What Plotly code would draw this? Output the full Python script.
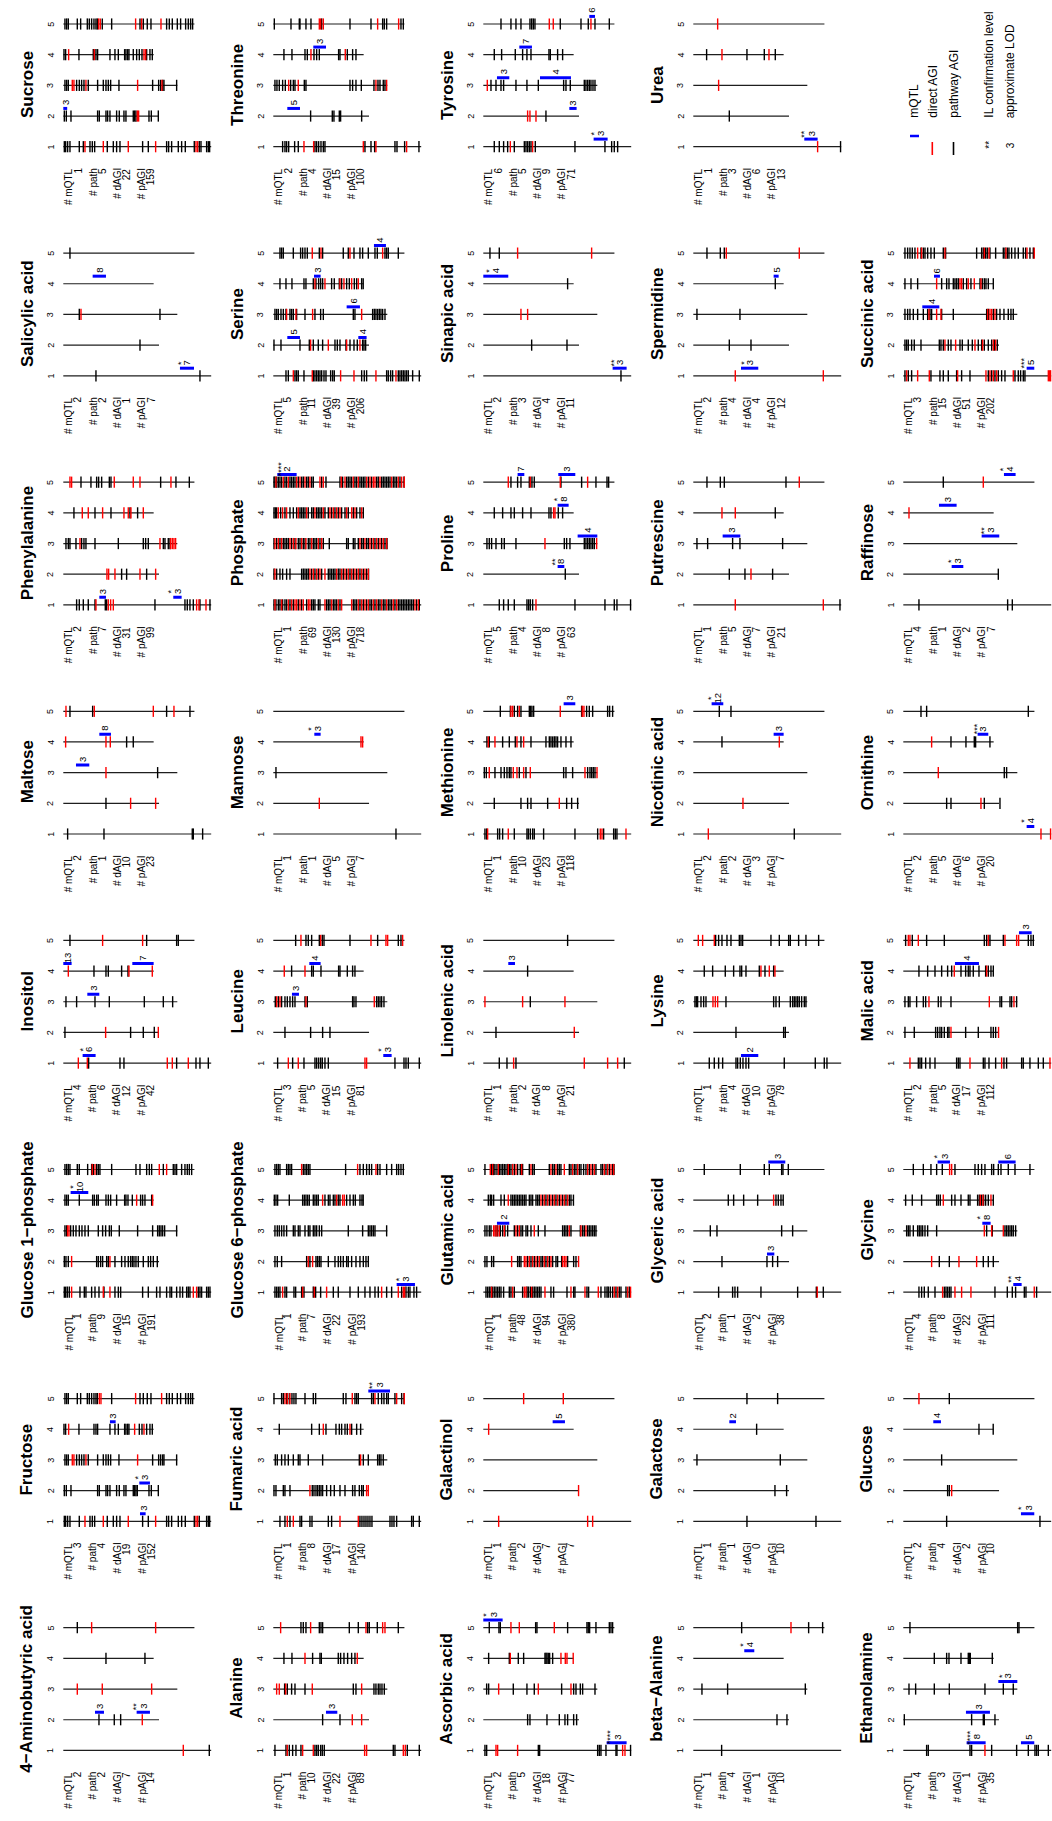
import plotly.graph_objects as go

# ---------------------------------------------------------------- data --
CHROM_LENGTH_MB = [30.43, 19.70, 23.46, 18.59, 26.98]
STAT_LABELS = ["# mQTL", "# path", "# dAGI", "# pAGI"]
LEGEND_LABELS = ["mQTL", "direct AGI", "pathway AGI"]
KEY_SYMBOLS = ["**", "3"]
KEY_LABELS = ["IL confirmation level", "approximate LOD"]

# counts = (# mQTL, # path, # dAGI, # pAGI)
# path / direct = AGI positions (Mb) per chromosome
# mqtl = (chromosome, start Mb, end Mb, approximate LOD, IL confirmation level)
SUCROSE = dict(
    name="Sucrose", counts=(1, 5, 22, 159),
    path={1: [0.21, 0.48, 0.89, 1.37, 3.29, 4.12, 5.49, 5.97, 6.45, 9.05, 10.29, 10.97, 11.66, 16.32, 17.49, 21.26, 21.67, 22.29, 23.66, 24.35, 25.1, 26.95, 27.98, 28.33, 29.49, 29.84, 30.11],
          2: [0.21, 0.62, 1.58, 7.06, 7.41, 8.78, 9.12, 9.6, 10.97, 11.52, 12.48, 12.89, 14.4, 14.68, 14.95, 17.63, 18.11, 19.55],
          3: [0.34, 0.69, 1.03, 2.74, 3.29, 3.77, 4.25, 5.14, 7.06, 8.23, 8.78, 9.26, 9.74, 11.45, 18.38, 19.62, 20.03, 20.44, 20.71, 23.32],
          4: [0.14, 0.48, 3.22, 6.17, 6.72, 7.06, 9.6, 10.63, 11.32, 12.62, 12.89, 13.24, 13.51, 14.4, 15.09, 15.64, 16.19, 17.15, 17.83, 18.31],
          5: [0.34, 0.69, 1.03, 2.88, 3.57, 4.94, 5.35, 5.83, 6.31, 6.72, 7.0, 8.02, 9.95, 15.78, 16.46, 17.28, 18.04, 21.26, 21.81, 22.43, 23.46, 24.14, 25.17, 25.72, 26.2, 26.61]},
    direct={1: [4.46, 8.23, 13.37, 19.0, 27.3, 27.64], 2: [15.23, 15.5], 3: [1.85, 2.19, 4.66, 15.29, 20.3],
            4: [1.1, 6.38, 16.6, 16.94], 5: [7.27, 7.61, 14.88, 16.12, 20.1]},
    mqtl=[(2, 0.0, 0.8, "3", "")],
)

THREONINE = dict(
    name="Threonine", counts=(2, 4, 15, 100),
    path={1: [1.92, 2.4, 2.74, 3.16, 4.39, 5.14, 8.57, 8.92, 9.33, 9.81, 10.29, 10.63, 18.86, 20.1, 20.85, 25.03, 25.45, 27.02, 29.97],
          2: [7.68, 12.14, 12.48, 13.58, 13.85, 18.18],
          3: [0.34, 0.75, 1.23, 1.92, 2.47, 3.57, 4.12, 4.46, 6.38, 6.72, 15.78, 16.32, 17.01, 18.11, 20.71, 21.54, 21.95, 22.63, 22.98],
          4: [2.19, 3.84, 6.52, 7.0, 8.37, 8.92, 9.47, 13.44, 13.72, 15.23, 16.32, 17.01],
          5: [0.21, 3.64, 5.35, 5.49, 6.72, 7.75, 9.95, 15.78, 20.1, 22.5, 22.84, 23.32, 26.27, 26.75]},
    direct={1: [6.31, 8.3, 18.52, 21.12, 27.43], 3: [3.16, 5.14, 21.12, 23.32], 4: [7.75, 14.81],
            5: [9.47, 9.74, 10.29, 21.47, 25.79]},
    mqtl=[(2, 2.88, 5.49, "5", ""), (4, 8.23, 10.84, "3", "")],
)

TYROSINE = dict(
    name="Tyrosine", counts=(6, 5, 9, 71),
    path={1: [2.26, 3.29, 4.18, 5.01, 6.38, 8.44, 8.78, 9.12, 9.47, 9.81, 10.7, 18.86, 25.03, 26.41, 26.95, 27.64],
          2: [12.89],
          3: [1.58, 2.61, 3.64, 4.18, 6.72, 8.98, 11.32, 16.53, 17.01, 17.9, 20.78, 21.12, 21.47, 21.81, 22.15, 22.57, 22.98],
          4: [2.26, 3.77, 6.58, 8.09, 8.98, 9.81, 13.51, 13.79, 15.29, 16.32],
          5: [3.64, 5.69, 6.72, 7.75, 9.6, 9.95, 10.29, 10.63, 15.84, 20.1, 21.6, 22.98, 25.93]},
    direct={1: [5.56, 10.15], 2: [9.12, 9.6, 10.84], 3: [0.82], 5: [13.58, 14.4, 22.15]},
    mqtl=[(5, 21.81, 22.98, "6", ""), (4, 7.41, 10.01, "7", ""), (3, 2.81, 5.35, "3", ""),
          (3, 11.66, 18.04, "4", ""), (2, 17.7, 19.2, "3", ""), (1, 22.7, 25.58, "3", "*")],
)

UREA = dict(
    name="Urea", counts=(1, 3, 6, 13),
    path={1: [30.3], 2: [7.41], 4: [2.74, 11.04, 14.61, 16.87]},
    direct={1: [25.58], 3: [5.21], 4: [5.9, 15.57], 5: [5.01]},
    mqtl=[(1, 22.84, 25.58, "3", "**")],
)

SALICYLIC_ACID = dict(
    name="Salicylic acid", counts=(2, 2, 1, 7),
    path={1: [6.72, 28.12], 2: [15.78], 3: [3.29, 19.89], 5: [1.37]},
    direct={3: [3.64]},
    mqtl=[(4, 6.04, 8.78, "8", ""), (1, 24.0, 26.89, "7", "*")],
)

SERINE = dict(
    name="Serine", counts=(5, 11, 39, 206),
    path={1: [2.61, 3.09, 4.46, 4.8, 5.14, 6.31, 8.23, 8.57, 8.92, 9.26, 9.6, 9.95, 10.43, 10.84, 11.8, 12.21, 12.55, 18.18, 18.72, 19.2, 23.32, 23.66, 24.14, 24.55, 25.72, 26.06, 26.41, 26.75, 27.09, 27.43, 27.78, 28.67, 30.04],
          2: [0.14, 1.58, 5.49, 7.41, 8.23, 9.26, 10.15, 12.69, 13.17, 13.72, 14.95, 15.78, 16.6, 17.28, 18.38, 18.66, 19.0],
          3: [0.34, 0.69, 1.03, 1.58, 2.06, 2.61, 3.43, 3.77, 4.12, 4.8, 6.52, 8.57, 9.74, 10.29, 16.46, 16.8, 20.44, 20.78, 21.12, 21.47, 21.81, 22.15, 22.5, 22.98],
          4: [1.37, 2.61, 3.84, 6.31, 6.72, 8.23, 8.78, 9.33, 9.74, 10.15, 12.0, 12.55, 13.58, 14.06, 15.09, 15.64, 16.67, 17.15, 18.18, 18.5],
          5: [1.37, 1.71, 2.06, 4.12, 5.62, 6.04, 6.52, 7.0, 9.47, 10.15, 14.4, 15.43, 16.6, 17.83, 18.38, 19.55, 20.92, 21.4, 22.98, 23.32, 23.66, 25.72]},
    direct={1: [4.12, 8.02, 13.85, 16.6, 21.12, 25.24], 2: [7.68, 11.32, 15.09, 17.83], 3: [2.74, 4.66, 8.09, 18.18],
            4: [8.57, 10.63, 13.72, 14.54, 16.12, 17.49], 5: [8.02, 9.81, 15.78, 22.5]},
    mqtl=[(5, 20.71, 23.18, "4", ""), (4, 8.37, 9.74, "3", ""), (3, 15.09, 17.83, "6", ""),
          (2, 2.88, 5.49, "5", ""), (2, 17.49, 19.2, "4", "")],
)

SINAPIC_ACID = dict(
    name="Sinapic acid", counts=(2, 3, 4, 11),
    path={1: [28.33], 2: [9.95, 17.22], 4: [17.35], 5: [1.37, 3.29]},
    direct={3: [7.75, 9.12], 5: [7.06, 22.29]},
    mqtl=[(4, 0.0, 5.14, "4", "*"), (1, 26.61, 29.49, "3", "**")],
)

SPERMIDINE = dict(
    name="Spermidine", counts=(2, 4, 4, 12),
    path={2: [7.41, 11.87], 3: [0.75, 9.6], 4: [16.87], 5: [2.81, 5.56, 6.38]},
    direct={1: [8.64, 26.75], 5: [6.79, 21.81]},
    mqtl=[(4, 16.53, 17.56, "5", ""), (1, 9.81, 13.37, "3", "*")],
)

SUCCINIC_ACID = dict(
    name="Succinic acid", counts=(3, 15, 51, 202),
    path={1: [0.34, 1.03, 1.71, 5.69, 7.54, 8.23, 9.26, 10.97, 12.0, 13.72, 17.49, 18.18, 18.86, 19.55, 20.23, 20.92, 22.98, 23.66, 24.14, 24.69, 25.03],
          2: [0.34, 0.69, 1.03, 1.71, 2.26, 3.64, 7.41, 7.75, 8.23, 9.26, 9.81, 11.66, 12.14, 13.37, 14.2, 15.43, 16.12, 16.67, 17.49, 18.18, 18.72, 19.34],
          3: [0.34, 0.89, 1.37, 2.06, 2.95, 4.12, 5.01, 5.49, 5.83, 7.89, 10.29, 17.15, 17.49, 18.52, 19.2, 19.89, 20.71, 21.6, 22.15, 22.63],
          4: [0.34, 1.58, 2.95, 7.89, 8.92, 9.4, 10.29, 10.63, 10.97, 11.32, 12.35, 13.03, 13.92, 15.78, 16.25, 16.67, 17.01, 17.49, 18.52],
          5: [0.34, 0.89, 1.37, 1.85, 2.4, 3.64, 4.12, 4.46, 5.01, 5.69, 6.38, 8.23, 8.71, 15.09, 16.12, 16.46, 16.94, 17.28, 17.83, 19.0, 20.58, 20.92, 21.4, 21.74, 22.29, 22.98, 23.66, 24.69, 25.17, 26.06, 26.75]},
    direct={1: [0.69, 2.95, 5.35, 11.18, 17.01, 17.83, 18.52, 19.2, 22.63, 29.84, 30.11, 30.3],
            2: [8.57, 10.77, 14.75, 16.32, 18.52, 19.0],
            3: [5.28, 6.86, 7.75, 17.35, 17.83, 18.18, 18.86],
            4: [6.86, 11.66, 12.0, 13.37, 14.61, 15.98],
            5: [2.95, 3.77, 8.57, 16.67, 17.63, 21.12, 25.45, 26.95]},
    mqtl=[(4, 6.31, 7.54, "6", ""), (3, 3.91, 7.41, "4", ""), (1, 25.38, 26.95, "5", "***")],
)

PHENYLALANINE = dict(
    name="Phenylalanine", counts=(2, 7, 31, 99),
    path={1: [2.74, 3.29, 4.12, 5.14, 6.52, 8.64, 8.92, 18.86, 25.03, 25.51, 26.06, 26.75, 28.12, 30.18],
          2: [12.0, 13.03, 17.15],
          3: [0.55, 1.03, 1.37, 2.61, 3.77, 4.25, 4.66, 6.52, 11.32, 16.46, 16.94, 17.49, 20.58, 20.92, 21.6, 21.95],
          4: [2.19, 6.52, 9.81, 13.72, 15.29],
          5: [3.64, 5.69, 6.86, 7.27, 7.89, 9.47, 9.81, 20.03, 23.18, 25.93]},
    direct={1: [6.72, 9.26, 9.74, 10.29, 27.43, 27.91, 29.36], 2: [8.98, 9.33, 10.63, 15.78, 19.0],
            3: [3.43, 19.89, 22.08, 22.43, 22.77, 23.11], 4: [3.91, 5.14, 8.09, 12.48, 13.37, 13.92, 16.46],
            5: [1.37, 1.71, 10.49, 14.4, 15.78, 22.15]},
    mqtl=[(1, 7.41, 8.78, "3", ""), (1, 22.63, 24.35, "3", "*")],
)

PHOSPHATE = dict(
    name="Phosphate", counts=(1, 69, 130, 718),
    path={1: [0.14, 0.55, 1.03, 1.37, 1.92, 2.4, 2.74, 3.43, 4.12, 5.14, 5.83, 6.86, 7.89, 8.23, 8.57, 9.26, 9.6, 10.97, 11.32, 11.66, 12.35, 12.69, 13.03, 13.72, 16.46, 16.8, 17.15, 17.83, 18.52, 19.2, 19.89, 20.23, 20.92, 21.6, 21.95, 22.63, 22.98, 23.66, 24.01, 24.35, 25.03, 25.72, 26.06, 26.41, 26.75, 27.09, 27.43, 27.78, 28.12, 28.46, 28.81, 29.49, 30.04],
          2: [0.14, 0.69, 1.37, 1.92, 2.74, 3.43, 5.83, 6.17, 6.52, 6.86, 7.2, 7.89, 8.57, 9.26, 9.95, 11.32, 11.66, 12.0, 12.35, 12.69, 13.37, 13.72, 14.4, 15.09, 15.78, 16.46, 17.15, 17.83, 18.52, 19.2, 19.6],
          3: [0.14, 0.69, 1.37, 2.06, 2.4, 2.74, 3.09, 3.77, 4.46, 5.14, 5.49, 6.17, 6.52, 7.2, 7.54, 8.23, 8.57, 8.92, 9.6, 10.29, 11.52, 15.09, 15.43, 16.46, 16.8, 17.49, 18.18, 18.52, 19.2, 19.55, 20.23, 20.92, 21.6, 22.29, 22.98, 23.4],
          4: [0.14, 0.41, 0.69, 1.51, 2.4, 3.43, 4.12, 4.8, 5.49, 5.83, 6.17, 6.52, 7.2, 7.89, 8.23, 8.92, 9.26, 9.6, 9.95, 10.63, 11.32, 12.0, 12.69, 13.37, 14.06, 14.75, 15.43, 16.46, 17.15, 17.83, 18.52],
          5: [0.14, 0.34, 0.69, 1.03, 1.37, 1.71, 2.4, 2.74, 3.43, 3.77, 4.12, 4.46, 5.14, 5.83, 6.17, 6.86, 7.2, 7.89, 8.23, 9.95, 10.84, 13.72, 14.27, 15.09, 15.43, 15.78, 16.12, 16.8, 17.15, 17.83, 18.18, 18.52, 18.86, 19.55, 20.23, 21.26, 21.6, 22.29, 22.63, 22.98, 23.32, 23.66, 24.01, 24.69, 25.03, 25.38, 26.06, 26.89]},
    direct={1: [0.34, 1.71, 3.09, 3.77, 4.46, 4.8, 5.49, 6.17, 7.2, 7.54, 10.63, 12.0, 13.37, 14.06, 16.12, 17.49, 18.18, 18.86, 19.55, 20.58, 21.26, 22.29, 23.32, 24.69, 25.38, 29.15, 29.84],
            2: [0.34, 7.54, 8.23, 8.92, 9.6, 10.63, 13.03, 14.06, 14.75, 15.43, 16.12, 16.8, 17.49, 18.18, 18.86, 19.55],
            3: [0.34, 1.03, 1.71, 3.43, 4.12, 4.66, 5.83, 6.72, 7.89, 9.26, 9.95, 17.83, 18.86, 19.89, 20.58, 21.26, 21.95, 22.63, 23.32],
            4: [1.03, 1.92, 2.74, 5.14, 6.86, 8.57, 10.29, 11.66, 12.35, 13.03, 13.72, 15.09, 16.12, 16.8, 18.18],
            5: [0.55, 2.06, 3.09, 4.8, 5.49, 6.52, 7.54, 9.6, 10.29, 13.99, 14.75, 16.46, 17.49, 19.2, 19.89, 20.58, 20.92, 21.95, 24.35, 25.72, 26.41, 26.95]},
    mqtl=[(5, 0.82, 4.8, "2", "****")],
)

PROLINE = dict(
    name="Proline", counts=(5, 4, 8, 63),
    path={1: [3.29, 4.18, 5.14, 6.38, 8.98, 9.33, 9.67, 10.15, 18.86, 25.03, 26.95, 27.5, 30.3],
          2: [16.87],
          3: [0.75, 1.23, 1.71, 2.61, 3.77, 4.32, 6.72, 16.67, 17.15, 17.83, 20.78, 21.12, 21.47, 21.81, 22.15, 22.5, 22.84],
          4: [2.26, 3.98, 5.69, 6.38, 8.09, 9.81, 13.51, 13.92, 15.43, 16.32],
          5: [5.69, 7.06, 7.75, 9.47, 10.01, 10.49, 15.98, 20.23, 23.18, 25.45, 25.79]},
    direct={1: [10.84], 3: [12.69, 23.32], 4: [14.47, 14.75], 5: [5.14, 9.67, 15.84, 21.47]},
    mqtl=[(5, 7.06, 8.44, "7", ""), (5, 15.43, 18.93, "3", ""), (4, 15.29, 17.56, "8", "*"),
          (3, 19.41, 23.46, "4", ""), (2, 15.29, 16.67, "8", "**")],
)

PUTRESCINE = dict(
    name="Putrescine", counts=(1, 5, 7, 21),
    path={1: [30.18], 2: [7.41, 10.63, 16.32], 3: [0.75, 2.95, 8.09, 9.6, 18.38], 4: [16.87], 5: [2.81, 5.56, 6.38, 19.07]},
    direct={1: [8.64, 26.75], 2: [11.87], 4: [5.9, 8.64], 5: [21.81]},
    mqtl=[(3, 6.04, 9.67, "3", "")],
)

RAFFINOSE = dict(
    name="Raffinose", counts=(4, 1, 2, 7),
    path={1: [3.22, 21.47, 22.43], 2: [19.55], 5: [8.23]},
    direct={4: [1.17], 5: [16.46]},
    mqtl=[(5, 20.71, 23.11, "4", "*"), (4, 7.34, 10.97, "3", ""), (3, 16.12, 19.75, "3", "**"),
          (2, 9.95, 12.35, "3", "*")],
)

MALTOSE = dict(
    name="Maltose", counts=(2, 1, 10, 23),
    path={1: [0.89, 8.37, 26.54, 26.75, 28.67], 2: [8.78], 3: [19.41], 4: [13.03, 14.4], 5: [1.37, 6.04, 21.26, 26.06]},
    direct={2: [13.85, 19.0], 3: [8.78], 4: [0.48, 8.78, 9.67], 5: [0.55, 6.38, 18.52, 22.77]},
    mqtl=[(4, 7.41, 9.81, "8", ""), (3, 2.61, 5.35, "3", "")],
)

MANNOSE = dict(
    name="Mannose", counts=(1, 1, 5, 7),
    path={1: [25.24], 3: [0.55]},
    direct={2: [9.47], 4: [18.04, 18.38]},
    mqtl=[(4, 8.44, 9.74, "3", "*")],
)

METHIONINE = dict(
    name="Methionine", counts=(1, 10, 23, 118),
    path={1: [0.34, 0.69, 2.95, 3.36, 3.98, 6.38, 8.98, 9.26, 9.67, 10.15, 10.49, 12.41, 18.86, 23.53, 24.76, 26.82, 27.16, 27.5],
          2: [2.26, 7.75, 9.12, 9.81, 13.24, 17.15, 18.18, 19.41],
          3: [0.21, 0.62, 2.4, 3.64, 4.32, 4.87, 5.35, 5.69, 7.41, 8.78, 16.53, 17.01, 18.38, 21.47, 21.95, 22.29, 22.63, 22.98],
          4: [0.75, 1.23, 3.98, 5.35, 6.58, 7.75, 9.81, 12.89, 13.58, 13.92, 14.27, 14.61, 14.95, 15.29, 15.98, 17.01, 18.04],
          5: [3.5, 5.56, 6.38, 7.06, 7.75, 9.47, 9.74, 10.01, 10.36, 20.23, 21.26, 21.81, 22.5, 25.58, 25.99, 26.61]},
    direct={1: [0.89, 5.14, 24.07, 24.42, 29.36], 2: [15.64], 3: [1.23, 6.17, 6.93, 8.3, 9.67, 20.92, 23.4],
            4: [1.03, 2.4, 6.93, 8.3], 5: [5.69, 6.04, 7.41, 15.84, 20.37, 20.71]},
    mqtl=[(5, 16.53, 18.93, "3", "")],
)

NICOTINIC_ACID = dict(
    name="Nicotinic acid", counts=(2, 2, 3, 7),
    path={1: [20.78], 4: [5.9], 5: [5.35, 7.75]},
    direct={1: [3.09], 2: [10.22], 4: [17.7]},
    mqtl=[(5, 3.77, 6.17, "12", "*"), (4, 16.53, 18.59, "3", "")],
)

ORNITHINE = dict(
    name="Ornithine", counts=(2, 5, 6, 20),
    path={2: [8.92, 9.81, 16.67, 19.89], 3: [20.78, 21.26], 4: [9.81, 12.89, 14.61, 14.88, 17.83], 5: [3.64, 4.8, 25.72]},
    direct={1: [28.33, 30.3], 2: [15.98], 3: [7.2], 4: [5.83]},
    mqtl=[(4, 15.29, 17.49, "3", "***"), (1, 25.38, 26.95, "4", "*")],
)

INOSITOL = dict(
    name="Inositol", counts=(4, 6, 12, 42),
    path={1: [5.21, 11.66, 12.48, 23.32, 27.3, 28.12, 29.84], 2: [0.34, 13.85, 16.46, 18.72],
          3: [0.55, 2.74, 6.52, 9.47, 16.67, 20.58, 22.5], 4: [6.31, 8.78, 9.26, 12.0, 13.31], 5: [1.37, 17.15, 23.32, 23.66]},
    direct={1: [3.09, 4.94, 21.4, 22.43, 25.72], 2: [8.71, 19.55], 4: [1.03, 13.51, 18.31], 5: [8.09, 16.32]},
    mqtl=[(4, 0.0, 1.71, "13", ""), (4, 14.2, 18.59, "7", ""), (3, 4.94, 7.41, "3", ""), (1, 3.98, 6.65, "6", "*")],
)

LEUCINE = dict(
    name="Leucine", counts=(3, 5, 15, 81),
    path={1: [0.89, 3.98, 6.31, 8.57, 8.92, 9.33, 9.74, 10.08, 10.63, 11.32, 25.03, 26.89, 27.3, 27.78, 30.04],
          2: [2.4, 7.68, 10.15, 11.66],
          3: [0.41, 1.03, 1.71, 2.4, 2.88, 3.43, 3.98, 4.46, 6.52, 7.0, 16.32, 16.6, 17.01, 21.26, 21.6, 21.95, 22.29, 22.77],
          4: [3.77, 7.89, 8.23, 9.81, 13.44, 13.72, 15.23, 16.32, 16.8],
          5: [4.6, 6.72, 7.2, 7.89, 9.47, 10.08, 10.43, 15.78, 21.47, 25.72, 26.27]},
    direct={1: [3.09, 5.14, 18.86, 19.2], 3: [0.69, 1.37, 6.72, 20.78], 4: [2.26, 6.52],
            5: [5.69, 9.74, 20.1, 23.18, 23.53, 26.61]},
    mqtl=[(4, 7.41, 9.74, "4", ""), (3, 3.84, 5.28, "3", ""), (1, 22.63, 24.35, "3", "*")],
)

LINOLENIC_ACID = dict(
    name="Linolenic acid", counts=(1, 2, 8, 21),
    path={1: [3.29, 4.87, 6.72, 29.01], 2: [2.61], 3: [9.67], 4: [9.12], 5: [17.35]},
    direct={1: [6.24, 20.78, 25.58, 27.64], 2: [18.72], 3: [0.34, 8.09, 16.8]},
    mqtl=[(4, 5.14, 6.52, "3", "")],
)

LYSINE = dict(
    name="Lysine", counts=(1, 4, 10, 79),
    path={1: [3.29, 4.32, 5.21, 6.04, 8.78, 9.12, 9.67, 10.22, 10.84, 11.39, 18.72, 25.1, 26.95, 27.5],
          2: [8.78, 18.59, 18.93],
          3: [0.34, 0.62, 0.89, 1.58, 2.13, 2.61, 6.72, 16.53, 17.01, 17.7, 19.96, 20.44, 20.78, 21.12, 21.47, 21.81, 22.29, 22.84, 23.18],
          4: [2.26, 3.98, 6.58, 8.3, 9.6, 9.95, 10.84, 13.58, 14.75, 16.53],
          5: [4.6, 5.21, 5.9, 6.93, 7.75, 9.47, 9.81, 10.15, 15.98, 17.7, 19.62, 19.96, 21.67, 23.18, 25.79]},
    direct={3: [4.05, 4.53, 5.01], 4: [13.92, 15.64, 16.8], 5: [1.03, 1.92, 4.32]},
    mqtl=[(1, 9.81, 13.37, "2", "")],
)

MALIC_ACID = dict(
    name="Malic acid", counts=(2, 5, 17, 112),
    path={1: [3.09, 3.43, 3.77, 4.6, 5.49, 6.52, 10.97, 11.32, 11.66, 16.46, 16.8, 17.63, 19.0, 20.71, 21.26, 24.35, 24.69, 26.06, 27.78, 28.81],
          2: [0.34, 2.26, 6.65, 7.06, 7.54, 7.89, 8.44, 9.12, 9.4, 12.83, 15.43, 18.04, 18.52, 19.0],
          3: [0.34, 1.03, 1.37, 2.74, 4.12, 4.6, 7.2, 7.75, 9.81, 19.89, 20.23, 21.95, 22.29, 23.32],
          4: [3.22, 5.01, 6.52, 7.89, 9.12, 9.95, 11.87, 12.83, 13.37, 13.72, 14.4, 15.57, 16.94, 17.49, 18.04, 18.52],
          5: [0.48, 1.85, 4.8, 8.44, 16.67, 17.15, 17.83, 20.58, 25.72, 26.27, 26.75]},
    direct={1: [1.37, 13.72, 20.23, 30.18], 2: [9.81, 19.6], 3: [5.28, 17.7, 22.77], 4: [10.49, 17.15],
            5: [1.03, 1.37, 3.09, 17.49, 20.92, 23.32, 23.73]},
    mqtl=[(5, 23.8, 26.41, "3", ""), (4, 10.63, 15.57, "4", "")],
)

GLUCOSE_1_PHOSPHATE = dict(
    name="Glucose 1\u2212phosphate", counts=(1, 9, 15, 191),
    path={1: [0.21, 0.48, 0.82, 1.23, 3.43, 4.32, 4.66, 5.83, 6.52, 7.34, 8.37, 10.63, 11.32, 11.8, 16.32, 17.49, 19.2, 19.89, 21.26, 21.95, 22.29, 23.32, 24.01, 24.55, 25.38, 25.72, 26.06, 27.78, 28.12, 28.46, 29.49, 29.84, 30.18],
          2: [0.21, 0.55, 1.03, 6.86, 7.2, 7.68, 8.09, 8.92, 9.26, 10.63, 12.0, 12.69, 13.37, 13.85, 14.2, 14.54, 14.95, 15.43, 16.46, 17.49, 17.97, 18.52, 19.34],
          3: [0.34, 0.69, 1.51, 2.06, 2.61, 3.29, 3.84, 4.46, 5.14, 7.2, 8.09, 8.71, 9.47, 9.88, 11.52, 15.29, 18.38, 19.41, 19.75, 20.1, 20.44, 20.85, 23.32],
          4: [0.34, 0.69, 1.03, 3.29, 6.04, 6.38, 6.86, 7.2, 8.78, 9.26, 9.74, 10.97, 12.62, 12.89, 13.31, 14.2, 15.91, 16.32, 16.8, 18.18],
          5: [0.34, 0.69, 1.03, 1.37, 2.88, 3.29, 5.01, 5.83, 6.17, 6.86, 7.2, 7.54, 9.95, 14.95, 15.78, 17.15, 17.7, 18.18, 20.58, 22.63, 22.98, 23.32, 24.35, 25.03, 25.51, 25.93, 26.41]},
    direct={1: [1.71, 8.23, 9.6, 26.75, 27.43], 2: [1.71, 9.6], 3: [0.89, 1.17], 4: [15.09, 18.38],
            5: [5.97, 6.52, 19.75, 21.26]},
    mqtl=[(4, 1.51, 5.14, "10", "*")],
)

GLUCOSE_6_PHOSPHATE = dict(
    name="Glucose 6\u2212phosphate", counts=(1, 7, 22, 193),
    path={1: [0.34, 0.69, 1.03, 1.37, 2.4, 2.74, 4.25, 4.6, 5.83, 6.31, 8.23, 8.71, 9.74, 12.35, 13.37, 15.78, 17.49, 18.86, 19.89, 20.92, 21.6, 23.32, 24.35, 26.41, 27.3, 27.78, 28.12, 28.94, 29.49],
          2: [0.34, 0.82, 1.71, 6.86, 7.54, 8.78, 9.12, 9.47, 9.81, 11.32, 12.69, 13.37, 13.85, 14.4, 15.09, 15.43, 16.12, 17.01, 17.83, 18.52, 19.07, 19.55],
          3: [0.34, 0.82, 1.23, 1.71, 2.19, 2.74, 4.12, 4.46, 5.14, 5.49, 6.52, 7.2, 7.54, 8.23, 8.57, 8.92, 9.47, 9.95, 15.43, 18.38, 19.55, 19.89, 20.23, 20.58, 20.92, 23.32],
          4: [0.21, 0.55, 0.89, 3.29, 6.04, 6.38, 6.72, 7.06, 7.41, 8.23, 8.57, 8.92, 9.26, 10.63, 11.32, 11.66, 12.35, 12.69, 13.37, 13.72, 15.09, 15.78, 16.46, 16.87, 17.83, 18.24, 18.5],
          5: [0.34, 0.69, 1.03, 1.37, 2.74, 3.09, 3.43, 3.77, 6.17, 6.52, 6.86, 7.2, 7.54, 14.88, 17.83, 18.52, 19.2, 19.75, 20.23, 21.47, 21.95, 23.32, 24.35, 25.38, 25.79, 26.27, 26.75]},
    direct={1: [1.92, 6.04, 8.44, 10.97, 22.29, 25.72, 26.75, 27.02], 2: [7.2, 8.09], 4: [10.15, 13.03, 14.27, 14.61],
            5: [5.83, 17.35, 21.12]},
    mqtl=[(1, 25.38, 29.15, "3", "*")],
)

GLUTAMIC_ACID = dict(
    name="Glutamic acid", counts=(1, 48, 94, 380),
    path={1: [0.55, 0.89, 1.23, 1.58, 1.92, 2.26, 2.61, 2.95, 3.29, 3.64, 4.18, 5.35, 5.69, 6.38, 8.09, 8.98, 9.26, 9.67, 10.15, 10.49, 10.84, 11.18, 11.52, 11.87, 13.92, 14.47, 17.22, 18.59, 18.86, 21.33, 21.67, 24.21, 25.03, 25.45, 25.72, 26.13, 26.61, 27.3, 27.98, 28.33, 29.36, 30.04],
          2: [0.34, 0.75, 1.71, 2.13, 7.06, 7.41, 7.75, 9.12, 9.81, 10.49, 11.18, 11.87, 12.21, 12.89, 13.58, 14.27, 14.95, 15.29, 16.12, 17.35, 18.59, 19.07],
          3: [0.34, 0.75, 1.23, 1.58, 2.61, 2.95, 3.5, 3.98, 4.46, 5.01, 6.38, 7.06, 7.75, 8.09, 8.78, 9.12, 9.81, 11.32, 12.69, 16.32, 16.67, 17.01, 17.35, 18.04, 19.96, 20.44, 20.78, 21.47, 21.81, 22.15, 22.5, 22.84, 23.18],
          4: [1.03, 1.44, 1.71, 2.13, 3.64, 4.32, 5.69, 6.04, 6.38, 6.72, 7.06, 7.41, 7.75, 8.09, 8.44, 8.78, 9.47, 9.81, 10.15, 10.84, 11.18, 11.52, 12.21, 12.89, 13.58, 14.27, 14.95, 15.64, 16.32, 17.01, 17.7, 18.04, 18.55],
          5: [0.34, 1.71, 2.13, 2.4, 2.81, 3.29, 3.64, 3.98, 4.32, 4.66, 5.01, 5.35, 5.69, 6.38, 7.06, 7.61, 8.09, 9.47, 10.15, 10.49, 13.58, 14.27, 14.61, 15.29, 15.64, 15.98, 17.7, 18.04, 18.72, 19.07, 19.75, 20.1, 20.64, 21.12, 21.81, 22.5, 23.18, 24.21, 24.55, 25.24, 25.93, 26.61, 26.9]},
    direct={1: [1.71, 6.04, 8.44, 8.78, 9.95, 12.69, 18.04, 20.92, 23.66, 26.95, 27.64, 29.7, 30.3],
            2: [5.83, 8.44, 8.78, 9.47, 10.15, 10.84, 11.52, 12.55, 13.24, 13.92, 16.32, 16.67, 17.01, 19.6],
            3: [2.13, 2.4, 2.81, 3.29, 4.32, 6.72, 7.41, 10.49, 17.7, 20.1, 21.12],
            4: [5.14, 11.87, 12.55, 13.24, 13.92, 14.61, 15.29, 15.98, 16.67, 17.35],
            5: [1.44, 1.92, 3.09, 5.14, 6.04, 6.72, 7.89, 9.81, 13.92, 14.95, 16.67, 18.38, 19.41, 21.47, 22.15, 22.84, 24.9, 25.58, 26.27, 26.82]},
    mqtl=[(3, 2.81, 5.35, "2", "")],
)

GLYCERIC_ACID = dict(
    name="Glyceric acid", counts=(2, 1, 2, 38),
    path={1: [5.21, 8.09, 8.57, 9.12, 13.92, 21.47, 25.31, 26.75], 2: [5.9, 15.16, 16.32, 17.35],
          3: [3.5, 4.87, 18.18, 20.44], 4: [7.2, 8.3, 10.36, 13.24, 17.01, 17.49, 18.04, 18.5],
          5: [2.26, 9.67, 14.61, 15.64, 18.18, 18.45, 19.55]},
    direct={1: [25.51], 4: [16.53]},
    mqtl=[(5, 15.43, 18.93, "3", ""), (2, 15.16, 16.67, "3", "")],
)

GLYCINE = dict(
    name="Glycine", counts=(4, 8, 22, 111),
    path={1: [3.22, 3.77, 4.32, 5.14, 6.52, 8.44, 8.78, 9.12, 9.47, 9.81, 18.86, 21.4, 22.43, 23.11, 24.9, 25.24, 27.43],
          2: [7.41, 9.47, 16.46, 17.49, 18.52],
          3: [0.69, 1.03, 1.37, 2.06, 2.95, 3.29, 3.64, 3.98, 4.46, 5.01, 6.86, 17.15, 18.31, 20.92, 21.26, 21.6, 21.95, 22.29, 22.63, 23.11],
          4: [0.48, 1.85, 3.77, 6.86, 7.2, 7.61, 9.95, 10.63, 11.87, 13.37, 13.72, 15.29, 15.64, 16.12, 16.53, 16.94, 17.49, 18.52],
          5: [2.06, 4.12, 5.69, 6.86, 8.02, 10.63, 14.75, 15.43, 16.12, 16.8, 18.18, 18.59, 19.55, 20.1, 21.6, 22.98, 26.06]},
    direct={1: [8.09, 10.63, 12.0, 13.92, 26.95], 2: [5.83, 11.45, 15.09], 3: [16.67, 18.18, 20.58],
            4: [8.23, 15.84, 16.39, 18.04], 5: [9.53, 9.95]},
    mqtl=[(5, 7.06, 9.6, "3", "*"), (5, 19.55, 23.11, "6", ""), (3, 16.26, 17.97, "8", "*"), (1, 22.63, 24.35, "4", "**")],
)

FRUCTOSE = dict(
    name="Fructose", counts=(3, 4, 19, 152),
    path={1: [0.21, 0.48, 0.89, 1.37, 3.29, 5.49, 5.97, 6.45, 9.05, 10.29, 10.97, 11.66, 16.32, 17.49, 21.26, 21.67, 22.29, 23.66, 24.35, 25.1, 26.95, 27.98, 29.49, 29.84, 30.11],
          2: [0.21, 0.62, 1.58, 7.06, 7.41, 8.78, 9.12, 9.6, 10.97, 11.52, 12.48, 12.89, 14.4, 14.68, 14.95, 15.23, 17.63, 18.11, 19.55],
          3: [0.34, 0.69, 1.03, 2.74, 3.29, 3.77, 4.25, 5.14, 7.06, 8.23, 8.78, 9.26, 9.74, 11.45, 18.38, 19.62, 20.03, 20.44, 20.71, 23.32],
          4: [0.14, 0.48, 3.22, 6.31, 6.72, 7.06, 9.6, 10.63, 11.32, 12.62, 12.89, 13.24, 13.51, 15.64, 16.19, 17.15, 17.83, 18.31],
          5: [0.34, 0.69, 1.03, 2.88, 3.57, 4.94, 5.35, 5.83, 6.31, 6.72, 7.0, 9.95, 15.78, 16.46, 17.28, 18.04, 21.26, 21.81, 22.43, 23.46, 24.14, 25.17, 25.72, 26.2, 26.61]},
    direct={1: [4.46, 8.23, 13.37, 19.0, 27.3, 27.64], 3: [1.85, 2.19, 4.66, 15.29], 4: [1.1, 14.68, 16.6],
            5: [7.41, 7.75, 14.88, 20.23]},
    mqtl=[(4, 9.6, 10.77, "3", ""), (2, 15.64, 17.83, "3", "*"), (1, 15.78, 16.94, "3", "")],
)

FUMARIC_ACID = dict(
    name="Fumaric acid", counts=(1, 8, 17, 140),
    path={1: [1.37, 2.4, 3.43, 5.49, 5.83, 7.54, 7.96, 11.32, 12.0, 17.83, 18.24, 18.66, 19.07, 19.48, 19.89, 20.3, 24.01, 24.42, 24.83, 25.38, 28.46, 28.81, 30.04],
          2: [0.14, 0.55, 2.06, 2.4, 3.43, 8.02, 8.37, 8.78, 9.12, 9.47, 9.81, 10.15, 10.97, 11.8, 12.55, 13.72, 14.75, 16.32, 16.8, 17.7, 18.18, 18.52],
          3: [0.41, 0.82, 1.71, 2.4, 3.09, 4.12, 5.14, 5.49, 7.2, 10.15, 17.7, 18.52, 19.55, 21.47, 21.81, 22.15, 22.63],
          4: [1.23, 7.89, 9.47, 10.84, 12.89, 13.58, 14.06, 14.75, 15.23, 16.12, 17.15, 17.97],
          5: [0.14, 1.71, 2.06, 2.74, 3.29, 3.84, 4.25, 4.66, 6.52, 8.23, 8.71, 14.4, 14.95, 16.8, 17.15, 17.49, 20.23, 20.58, 21.6, 22.29, 22.77, 23.32, 23.66, 25.03, 26.41, 26.89]},
    direct={1: [2.88, 4.12, 13.72, 17.49], 2: [7.54, 19.2, 19.55], 3: [17.97], 4: [10.29, 15.78],
            5: [2.4, 2.88, 3.43, 16.25, 20.92, 25.38, 26.95]},
    mqtl=[(5, 19.55, 24.01, "3", "**")],
)

GALACTINOL = dict(
    name="Galactinol", counts=(1, 2, 7, 7),
    path={},
    direct={1: [3.16, 21.47, 22.5], 2: [19.6], 4: [1.1], 5: [8.3, 16.46]},
    mqtl=[(4, 14.27, 16.8, "5", "")],
)

GALACTOSE = dict(
    name="Galactose", counts=(1, 1, 0, 10),
    path={1: [11.04, 25.24], 2: [16.8, 19.2], 3: [0.75, 17.9], 4: [13.03], 5: [11.04, 17.35]},
    direct={},
    mqtl=[(4, 7.41, 8.78, "2", "")],
)

GLUCOSE = dict(
    name="Glucose", counts=(2, 4, 2, 10),
    path={1: [8.92, 28.12], 2: [9.12, 9.47], 3: [7.89], 4: [15.57, 18.5], 5: [9.47]},
    direct={2: [9.95], 5: [3.22]},
    mqtl=[(4, 6.17, 7.75, "4", ""), (1, 24.21, 26.95, "3", "*")],
)

AMINOBUTYRIC_ACID = dict(
    name="4\u2212Aminobutyric acid", counts=(2, 2, 7, 14),
    path={1: [30.04], 2: [7.34, 10.49, 11.8], 4: [8.78, 16.8], 5: [2.88]},
    direct={1: [24.69], 2: [16.25], 3: [2.88, 8.02, 18.18], 5: [5.83, 19.0]},
    mqtl=[(2, 6.52, 8.37, "3", ""), (2, 15.09, 17.83, "3", "**")],
)

ALANINE = dict(
    name="Alanine", counts=(1, 10, 22, 89),
    path={1: [0.34, 2.61, 3.29, 3.98, 4.66, 5.69, 8.57, 8.92, 9.26, 9.74, 10.08, 10.49, 24.69, 25.03, 27.57, 30.04],
          2: [10.15, 13.72],
          3: [2.33, 2.88, 3.77, 4.46, 6.52, 16.46, 17.01, 20.71, 21.12, 21.6, 21.95, 22.36, 22.84],
          4: [2.19, 3.84, 8.09, 9.6, 9.88, 13.37, 13.85, 14.54, 15.29, 16.12, 16.8],
          5: [5.69, 6.17, 6.72, 9.47, 9.81, 10.15, 15.64, 17.49, 19.41, 19.75, 21.4, 25.72]},
    direct={1: [2.88, 6.04, 8.23, 18.79, 19.2, 26.75, 27.16], 2: [16.25, 18.18], 3: [0.69, 1.23, 2.54, 8.02, 18.18],
            4: [6.52, 17.28], 5: [1.51, 7.68, 19.07, 22.5, 22.98]},
    mqtl=[(2, 10.84, 13.17, "3", "")],
)

ASCORBIC_ACID = dict(
    name="Ascorbic acid", counts=(2, 5, 18, 77),
    path={1: [0.34, 0.69, 11.32, 11.59, 23.53, 23.87, 24.21, 25.24, 27.3, 27.5, 30.3],
          2: [9.12, 9.6, 13.1, 15.64, 16.8, 17.35, 18.59, 19.2],
          3: [0.69, 1.1, 6.17, 8.98, 10.49, 16.12, 18.59, 19.07, 19.96, 20.44, 22.98],
          4: [1.1, 5.35, 7.2, 8.3, 12.69, 12.89, 13.1, 13.37, 13.65, 14.27],
          5: [1.23, 3.22, 3.5, 10.77, 11.04, 17.35, 21.33, 21.6, 21.88, 23.18, 25.93, 26.27, 26.61]},
    direct={1: [2.61, 2.95, 7.06, 28.67, 29.15], 3: [3.16, 11.32, 18.04], 4: [5.56, 15.98, 16.87, 17.22, 18.5],
            5: [5.69, 7.41, 14.61]},
    mqtl=[(5, 0.0, 3.98, "3", "*"), (1, 25.38, 29.49, "3", "****")],
)

BETA_ALANINE = dict(
    name="beta\u2212Alanine", counts=(1, 4, 1, 10),
    path={1: [5.83], 2: [17.22, 19.27], 3: [1.78, 7.06, 23.05], 5: [9.95, 23.73, 26.61]},
    direct={5: [20.1]},
    mqtl=[(4, 10.49, 12.55, "4", "*")],
)

ETHANOLAMINE = dict(
    name="Ethanolamine", counts=(4, 3, 1, 35),
    path={1: [4.8, 5.14, 13.72, 14.06, 18.18, 23.32, 25.72, 27.09, 27.43, 27.78, 29.84],
          2: [0.21, 14.06, 16.46, 16.67, 18.86],
          3: [1.17, 2.54, 6.38, 9.47, 16.8, 20.58, 22.63],
          4: [6.38, 8.92, 9.4, 11.87, 13.37, 13.58, 13.79, 18.31],
          5: [1.37, 23.53, 23.8]},
    direct={1: [16.8]},
    mqtl=[(3, 19.55, 23.46, "3", "*"), (2, 12.89, 17.83, "3", ""), (1, 13.03, 16.94, "8", "****"), (1, 24.21, 26.95, "5", "")],
)

# page layout: 8 rows x 5 columns, legend in the top-right cell
GRID = [
    [SUCROSE, THREONINE, TYROSINE, UREA, None],
    [SALICYLIC_ACID, SERINE, SINAPIC_ACID, SPERMIDINE, SUCCINIC_ACID],
    [PHENYLALANINE, PHOSPHATE, PROLINE, PUTRESCINE, RAFFINOSE],
    [MALTOSE, MANNOSE, METHIONINE, NICOTINIC_ACID, ORNITHINE],
    [INOSITOL, LEUCINE, LINOLENIC_ACID, LYSINE, MALIC_ACID],
    [GLUCOSE_1_PHOSPHATE, GLUCOSE_6_PHOSPHATE, GLUTAMIC_ACID, GLYCERIC_ACID, GLYCINE],
    [FRUCTOSE, FUMARIC_ACID, GALACTINOL, GALACTOSE, GLUCOSE],
    [AMINOBUTYRIC_ACID, ALANINE, ASCORBIC_ACID, BETA_ALANINE, ETHANOLAMINE],
]

# ------------------------------------------------------------ geometry --
W, H = 1052, 1821
COL_W, ROW_H = 210.0, 229.1
PANEL_W, PANEL_H = 213.0, 215.0
CHR_X0 = 63.3          # chromosome start, px from panel left
PX_PER_MB = 4.86
CHR1_Y = 146.7         # chromosome 1, px from panel top
CHR_STEP = 30.675      # px between chromosomes

FONT = "Liberation Sans, Arial, Helvetica, sans-serif"
BLUE, RED, BLACK = "#0000FF", "#FF0000", "#000000"


def mb(px):
    """panel-relative x pixel -> Mb"""
    return (px - CHR_X0) / PX_PER_MB


def chrom(py):
    """panel-relative y pixel -> chromosome coordinate"""
    return 1 + (CHR1_Y - py) / CHR_STEP


BAR_OFF = 7.6 / CHR_STEP
LOD_OFF = 13.3 / CHR_STEP

fig = go.Figure()
annotations = []
axes = {}


def ann(xa, ya, x, y, text, size, **kw):
    a = dict(xref=xa, yref=ya, x=x, y=y, text=text, showarrow=False, textangle=-90,
             font=dict(family=FONT, size=size, color=BLACK),
             xanchor="center", yanchor="middle", borderpad=0)
    a.update(kw)
    annotations.append(a)


def ticks(positions, color, xa, ya):
    xs, ys = [], []
    for k in range(1, 6):
        for p in positions.get(k, []):
            xs.append(p)
            ys.append(k)
    if not xs:
        return
    fig.add_trace(go.Scatter(
        x=xs, y=ys, xaxis=xa, yaxis=ya, mode="markers", cliponaxis=False,
        marker=dict(symbol="line-ns", size=8, color=color, line=dict(color=color, width=1.4)),
        hoverinfo="skip", showlegend=False))


n = 0
for r, row in enumerate(GRID):
    for c, panel in enumerate(row):
        n += 1
        suffix = "" if n == 1 else str(n)
        xa, ya = "x" + suffix, "y" + suffix
        left = c * COL_W
        right = min(left + PANEL_W, W)
        top = r * ROW_H
        bottom = min(top + PANEL_H, H)
        axes["xaxis" + suffix] = dict(domain=[left / W, right / W], range=[mb(0), mb(right - left)],
                                      visible=False, fixedrange=True, anchor=ya)
        axes["yaxis" + suffix] = dict(domain=[1 - bottom / H, 1 - top / H], range=[chrom(bottom - top), chrom(0)],
                                      visible=False, fixedrange=True, anchor=xa)

        if panel is None:
            # legend
            fig.add_trace(go.Scatter(x=[mb(70), mb(79)], y=[chrom(136)] * 2, xaxis=xa, yaxis=ya,
                                     mode="lines", line=dict(color=BLUE, width=2.5),
                                     hoverinfo="skip", showlegend=False))
            for px, col in [(92.3, RED), (113.5, BLACK)]:
                fig.add_trace(go.Scatter(x=[mb(px)] * 2, y=[chrom(142), chrom(155)], xaxis=xa, yaxis=ya,
                                         mode="lines", line=dict(color=col, width=1.6),
                                         hoverinfo="skip", showlegend=False))
            for px, label in zip([73.7, 92.2, 113.7], LEGEND_LABELS):
                ann(xa, ya, mb(px), chrom(119), label, 12, yanchor="bottom")
            for px, sym, label in zip([148.7, 170.3], KEY_SYMBOLS, KEY_LABELS):
                ann(xa, ya, mb(px), chrom(145), sym, 10)
                ann(xa, ya, mb(px), chrom(119), label, 12, yanchor="bottom")
            continue

        # chromosomes
        xs, ys = [], []
        for k, length in enumerate(CHROM_LENGTH_MB, start=1):
            xs += [0, length, None]
            ys += [k, k, None]
        fig.add_trace(go.Scatter(x=xs, y=ys, xaxis=xa, yaxis=ya, mode="lines",
                                 line=dict(color="#1e1e1e", width=1.2),
                                 hoverinfo="skip", showlegend=False))
        ticks(panel["path"], BLACK, xa, ya)
        ticks(panel["direct"], RED, xa, ya)

        # mQTL bars
        xs, ys = [], []
        for k, a, b, lod, stars in panel["mqtl"]:
            xs += [a, b, None]
            ys += [k + BAR_OFF, k + BAR_OFF, None]
            mid = (a + b) / 2
            ann(xa, ya, mid, k + LOD_OFF, lod, 9.5)
            if stars:
                ann(xa, ya, mid, k + LOD_OFF, stars, 9, xshift=-6.5)
        fig.add_trace(go.Scatter(x=xs, y=ys, xaxis=xa, yaxis=ya, mode="lines",
                                 line=dict(color=BLUE, width=3),
                                 hoverinfo="skip", showlegend=False))

        # texts
        ann(xa, ya, mb(27), chrom(85), "<b>%s</b>" % panel["name"], 17)
        for k in range(1, 6):
            ann(xa, ya, mb(50.7), k, str(k), 9)
        for i, (label, value) in enumerate(zip(STAT_LABELS, panel["counts"])):
            ann(xa, ya, mb(68.5 + 24.4 * i), chrom(167), label, 10, yanchor="top")
            ann(xa, ya, mb(77.5 + 24.4 * i), chrom(167), str(value), 10, yanchor="top")

fig.update_layout(
    width=W, height=H, autosize=False,
    margin=dict(l=0, r=0, t=0, b=0, pad=0),
    paper_bgcolor="white", plot_bgcolor="rgba(0,0,0,0)",
    showlegend=False, annotations=annotations,
    **axes,
)

fig.write_html("out.html")
